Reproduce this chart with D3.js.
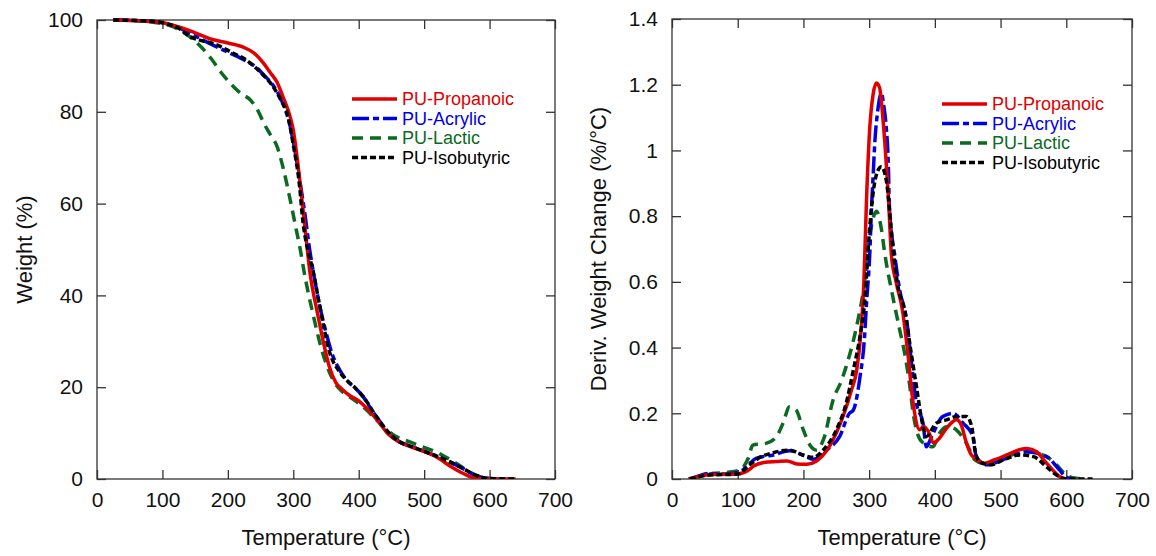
<!DOCTYPE html>
<html>
<head>
<meta charset="utf-8">
<script src="https://cdn.jsdelivr.net/npm/d3@7"></script>
<style>
  body { margin: 0; background: #fff; }
  svg { font-family: "Liberation Sans", Arial, sans-serif; }
</style>
</head>
<body>
<svg id="chart" width="1156" height="556"></svg>
<script>
// Series names and colours
const seriesNames = ['PU-Propanoic', 'PU-Acrylic', 'PU-Lactic', 'PU-Isobutyric'];

// TGA: [temperature °C, weight %]
const tgaPropanoic = [[25,100],[50,99.9],[100,99.4],[125,98.5],[150,97.2],[175,95.8],[200,95],[225,94],[240,92.8],[255,90.5],[265,88.5],[275,86.5],[285,83],[295,79],[300,76],[305,71],[310,65],[315,58.5],[320,52],[325,45.5],[330,41],[335,37.5],[345,30.5],[355,24.5],[365,21],[375,19.5],[385,18.3],[400,17],[415,15],[430,12.5],[445,9.8],[460,8.2],[480,7],[500,6],[520,4.7],[540,2.8],[560,1.2],[575,0.3],[600,0],[640,0]];
const tgaAcrylic = [[25,100],[75,99.8],[100,99.4],[125,98.3],[150,96.5],[175,94.7],[200,93],[225,91.3],[245,89.5],[255,88],[265,86.5],[275,84.5],[285,81.5],[295,77],[302,72],[310,65],[318,57.5],[325,50],[332,44],[340,38],[350,32],[360,27],[370,24],[381,21.6],[395,19.8],[407,17.9],[420,15],[430,13],[442,10.7],[458,8.5],[482,7],[508,5.6],[534,4.1],[559,2.3],[575,1],[590,0.3],[610,0],[635,0]];
const tgaLactic = [[25,100],[75,99.7],[100,99.2],[115,98.6],[130,97.5],[145,96],[160,94],[175,91.5],[190,88.5],[205,86],[220,84],[235,82.5],[245,80.5],[255,77.5],[265,75],[275,72.5],[285,67.5],[295,61],[305,54],[310,50.5],[318,44],[330,36],[345,27.4],[360,21.8],[375,19],[386,17.9],[406,15.8],[427,12.9],[445,10.5],[458,9.2],[470,8.5],[483,7.8],[503,6.7],[520,5.8],[530,5],[545,3.8],[564,2],[580,0.8],[590,0.3],[610,0]];
const tgaIsobutyric = [[25,100],[75,99.8],[100,99.4],[125,98.2],[142,96.4],[160,95.5],[183,94.6],[205,93],[228,91.3],[254,88],[265,86.3],[274,84.4],[282,82.3],[290,80],[300,72.8],[310,63.3],[314,57],[322,50],[330,45.5],[340,38],[356,27.4],[370,23.5],[381,21.6],[395,19.8],[407,17.9],[427,13.6],[442,10.7],[458,8.5],[482,7],[508,5.6],[534,4.1],[559,2.3],[585,0.5],[600,0.1],[640,0]];

// DTG: [temperature °C, deriv. weight change %/°C]
const dtgPropanoic = [[25,0],[40,0.008],[60,0.014],[100,0.015],[115,0.025],[125,0.04],[140,0.05],[160,0.053],[175,0.055],[190,0.046],[205,0.045],[220,0.055],[235,0.085],[250,0.14],[262,0.2],[273,0.27],[281,0.33],[288,0.46],[292,0.6],[296,0.85],[301,1.07],[306,1.17],[311,1.205],[316,1.19],[320,1.12],[324,1.02],[329,0.87],[334,0.68],[341,0.6],[351,0.51],[359,0.38],[367,0.23],[377,0.15],[383,0.16],[390,0.145],[398,0.11],[405,0.12],[418,0.155],[433,0.18],[440,0.165],[448,0.11],[455,0.075],[462,0.062],[476,0.048],[490,0.058],[500,0.065],[515,0.078],[530,0.09],[540,0.093],[555,0.083],[565,0.06],[575,0.037],[590,0.007],[600,0]];
const dtgAcrylic = [[30,0],[57,0.017],[83,0.015],[103,0.022],[113,0.037],[128,0.063],[154,0.073],[179,0.086],[199,0.073],[215,0.06],[235,0.088],[255,0.129],[270,0.2],[276,0.21],[286,0.31],[293,0.433],[296,0.535],[301,0.687],[303.5,0.82],[306,0.92],[308.5,1.02],[313,1.12],[318.7,1.174],[322,1.14],[326,1.07],[329,0.97],[331,0.82],[339,0.68],[346.5,0.575],[357,0.484],[364,0.362],[372,0.23],[382,0.17],[387,0.098],[395,0.129],[412,0.19],[428,0.2],[443,0.17],[458,0.129],[463,0.068],[478,0.043],[509,0.063],[539,0.083],[570,0.068],[590,0.027],[600,0.005],[613,0]];
const dtgLactic = [[30,0],[57,0.015],[83,0.02],[103,0.027],[116,0.063],[123,0.103],[144,0.109],[159,0.129],[169,0.17],[179,0.22],[189,0.21],[199,0.154],[210,0.103],[220,0.088],[232,0.129],[245,0.24],[258,0.3],[265,0.342],[275,0.413],[283,0.484],[288,0.535],[293,0.596],[298,0.7],[303.5,0.77],[311,0.815],[318.7,0.76],[323.7,0.687],[334,0.575],[346.5,0.454],[354,0.383],[362,0.281],[367,0.2],[380,0.114],[397,0.098],[407,0.139],[420,0.16],[433,0.149],[448,0.109],[461,0.058],[473,0.048],[499,0.058],[524,0.078],[540,0.083],[570,0.068],[585,0.043],[600,0.012],[615,0.002],[630,0]];
const dtgIsobutyric = [[27,0],[57,0.012],[100,0.015],[118,0.043],[134,0.066],[154,0.08],[179,0.088],[199,0.073],[215,0.066],[230,0.088],[250,0.149],[265,0.23],[276,0.332],[286,0.433],[293,0.535],[301,0.768],[306,0.87],[313.6,0.94],[318.7,0.95],[326,0.91],[331,0.82],[336,0.707],[344,0.585],[354,0.514],[364,0.383],[372,0.281],[380,0.18],[387,0.129],[402,0.17],[418,0.18],[433,0.19],[448,0.19],[456,0.16],[461,0.088],[468,0.053],[484,0.043],[504,0.058],[529,0.073],[550,0.068],[570,0.037],[585,0.012],[600,0],[640,0]];

// Axis ticks
const xTicks = [0, 100, 200, 300, 400, 500, 600, 700];
const tgaTicks = [0, 20, 40, 60, 80, 100];
const dtgTicks = [0, 0.2, 0.4, 0.6, 0.8, 1, 1.2, 1.4];

const colors = ['#e00000', '#0000e6', '#0b6a1f', '#000000'];
const dashes = [null, '17,4,6,4', '11,7', '6,3'];

const svg = d3.select('#chart');

function drawPanel(opts) {
  const { left, right, top, bottom, yMax, yTicks, yFormat, series, yTitle, yTitleX, legendX, legendY } = opts;

  const x = d3.scaleLinear().domain([0, 700]).range([left, right]);
  const y = d3.scaleLinear().domain([0, yMax]).range([bottom, top]);

  const g = svg.append('g');

  // Frame
  g.append('rect')
    .attr('x', left).attr('y', top)
    .attr('width', right - left).attr('height', bottom - top)
    .attr('fill', 'none').attr('stroke', '#333').attr('stroke-width', 1.3);

  // Bottom axis with labels, ticks pointing inward
  const xb = g.append('g')
    .attr('transform', `translate(0,${bottom})`)
    .call(d3.axisBottom(x).tickValues(xTicks).tickSize(-9).tickPadding(13).tickFormat(d3.format('d')));
  // Top axis (ticks only)
  const xt = g.append('g')
    .attr('transform', `translate(0,${top})`)
    .call(d3.axisTop(x).tickValues(xTicks).tickSize(-9).tickFormat(''));
  // Left axis with labels
  const yl = g.append('g')
    .attr('transform', `translate(${left},0)`)
    .call(d3.axisLeft(y).tickValues(yTicks).tickSize(-9).tickPadding(14).tickFormat(yFormat));
  // Right axis (ticks only)
  const yr = g.append('g')
    .attr('transform', `translate(${right},0)`)
    .call(d3.axisRight(y).tickValues(yTicks).tickSize(-9).tickFormat(''));

  [xb, xt, yl, yr].forEach(a => {
    a.select('.domain').remove();
    a.selectAll('.tick line').attr('stroke', '#333').attr('stroke-width', 1.3);
    a.selectAll('.tick text').attr('font-size', 21).attr('fill', '#111')
      .attr('font-family', '"Liberation Sans", Arial, sans-serif');
  });
  xb.selectAll('.tick text').attr('dy', '0.71em');

  // Axis titles
  g.append('text')
    .attr('x', (left + right) / 2).attr('y', 545)
    .attr('text-anchor', 'middle').attr('font-size', 22).attr('fill', '#111')
    .text('Temperature (°C)');
  g.append('text')
    .attr('transform', `translate(${yTitleX},${(top + bottom) / 2}) rotate(-90)`)
    .attr('text-anchor', 'middle').attr('font-size', 22).attr('fill', '#111')
    .text(yTitle);

  // Curves
  const line = d3.line()
    .x(d => x(d[0]))
    .y(d => y(d[1]))
    .curve(d3.curveMonotoneX);

  const clipId = 'clip' + left;
  g.append('clipPath').attr('id', clipId)
    .append('rect').attr('x', left).attr('y', top - 2)
    .attr('width', right - left).attr('height', bottom - top + 2);

  const lines = g.append('g').attr('clip-path', `url(#${clipId})`);
  // draw in order: lactic, acrylic, propanoic, isobutyric on top
  [2, 1, 0, 3].forEach(i => {
    lines.append('path')
      .datum(series[i])
      .attr('fill', 'none')
      .attr('stroke', colors[i])
      .attr('stroke-width', 3.5)
      .attr('stroke-dasharray', dashes[i])
      .attr('d', line);
  });

  // Legend
  const lg = g.append('g').attr('transform', `translate(${legendX},${legendY})`);
  seriesNames.forEach((name, i) => {
    const row = lg.append('g').attr('transform', `translate(0,${i * 19.5})`);
    row.append('line')
      .attr('x1', 0).attr('x2', 45).attr('y1', 0).attr('y2', 0)
      .attr('stroke', colors[i]).attr('stroke-width', 3.5)
      .attr('stroke-dasharray', dashes[i]);
    row.append('text')
      .attr('x', 50).attr('y', 0).attr('dy', '0.35em')
      .attr('font-size', 18).attr('fill', colors[i])
      .text(name);
  });
}

drawPanel({
  left: 97, right: 555, top: 20, bottom: 479,
  yMax: 100, yTicks: tgaTicks, yFormat: d3.format('d'),
  series: [tgaPropanoic, tgaAcrylic, tgaLactic, tgaIsobutyric],
  yTitle: 'Weight (%)', yTitleX: 32,
  legendX: 352, legendY: 99
});

drawPanel({
  left: 672, right: 1132, top: 19, bottom: 479,
  yMax: 1.4, yTicks: dtgTicks, yFormat: d => String(+d.toFixed(1)),
  series: [dtgPropanoic, dtgAcrylic, dtgLactic, dtgIsobutyric],
  yTitle: 'Deriv. Weight Change (%/°C)', yTitleX: 606,
  legendX: 942, legendY: 104
});
</script>
</body>
</html>
